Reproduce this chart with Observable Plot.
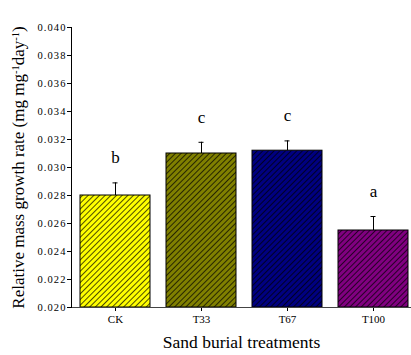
<!DOCTYPE html>
<html>
<head>
<meta charset="utf-8">
<script src="https://cdn.jsdelivr.net/npm/d3@7"></script>
<script src="https://cdn.jsdelivr.net/npm/@observablehq/plot@0.6"></script>
<style>
  html, body { margin: 0; padding: 0; background: #fff; }
</style>
</head>
<body>
<div id="chart"></div>
<script>
const treatments = ["CK", "T33", "T67", "T100"];
const values = [0.0280, 0.0310, 0.0312, 0.0255];
const errors = [0.0009, 0.0008, 0.0007, 0.0010];
const letters = ["b", "c", "c", "a"];
const colors = ["#FFFF00", "#808000", "#000080", "#800080"];
const yTicks = [0.020, 0.022, 0.024, 0.026, 0.028, 0.030, 0.032, 0.034, 0.036, 0.038, 0.040];

const data = treatments.map((t, i) => ({
  treatment: t, value: values[i], err: errors[i], letter: letters[i],
  fill: `url(#hatch-${i})`
}));
const yBase = yTicks[0];

function defsMark() {
  const defs = d3.create("svg:defs");
  colors.forEach((c, i) => {
    const p = defs.append("pattern")
      .attr("id", `hatch-${i}`)
      .attr("patternUnits", "userSpaceOnUse")
      .attr("width", 4).attr("height", 4)
      .attr("patternTransform", "rotate(45)");
    p.append("rect").attr("width", 4).attr("height", 4).attr("fill", c);
    p.append("line").attr("x1", 0.5).attr("y1", 0).attr("x2", 0.5).attr("y2", 4)
      .attr("stroke", "#000").attr("stroke-width", 0.7);
  });
  return defs.node();
}

const plot = Plot.plot({
  width: 411,
  height: 355,
  marginTop: 27,
  marginBottom: 48,
  marginLeft: 71,
  marginRight: 0,
  style: { fontFamily: "'Liberation Serif', serif", fontSize: "11px", color: "#000", background: "#fff" },
  x: { domain: treatments, range: [71, 416], paddingInner: 0.19, paddingOuter: 0.093, align: 0.5 },
  y: { domain: [0.020, 0.040] },
  color: { type: "identity" },
  marks: [
    defsMark,
    Plot.barY(data, { x: "treatment", y1: () => yBase, y2: "value", fill: "fill", stroke: "#000", strokeWidth: 1 }),
    Plot.ruleX(data, { x: "treatment", y1: "value", y2: d => d.value + d.err, stroke: "#000", strokeWidth: 1 }),
    Plot.tickY(data, { x: "treatment", y: d => d.value + d.err, stroke: "#000", strokeWidth: 1, insetLeft: 32.5, insetRight: 32.5 }),
    Plot.text(data, { x: "treatment", y: d => d.value + d.err, text: "letter", dy: -25, fontSize: 17, fill: "#000", fontFamily: "'Liberation Serif', serif" }),
    Plot.axisY({ ticks: yTicks, tickFormat: d3.format(".3f"), tickSize: 4, tickPadding: 1, fontSize: 10.5,
      label: "Relative mass growth rate (mg mg-1day-1)", labelAnchor: "center", labelArrow: "none", labelOffset: 60 }),
    Plot.axisX({ tickSize: 4, tickPadding: 4, fontSize: 11,
      label: "Sand burial treatments", labelAnchor: "center", labelArrow: "none", labelOffset: 40 }),
    Plot.frame({ anchor: "bottom", stroke: "#444", strokeWidth: 1 }),
    Plot.frame({ anchor: "left", stroke: "#000", strokeWidth: 1 })
  ]
});

document.getElementById("chart").appendChild(plot);

// Style axis labels
const svg = d3.select(plot);
svg.selectAll("[aria-label='y-axis tick label'] text").style("font-size", "10.5px").style("letter-spacing", "1.1px");
svg.selectAll("[aria-label='x-axis label'] text").style("font-size", "17.5px");
const yl = svg.select("[aria-label='y-axis label'] text");
yl.style("font-size", "17px").text(null);
yl.append("tspan").text("Relative mass growth rate (mg mg");
yl.append("tspan").attr("baseline-shift", "super").style("font-size", "10.5px").text("-1");
yl.append("tspan").text("day");
yl.append("tspan").attr("baseline-shift", "super").style("font-size", "10.5px").text("-1");
yl.append("tspan").text(")");
</script>
</body>
</html>
